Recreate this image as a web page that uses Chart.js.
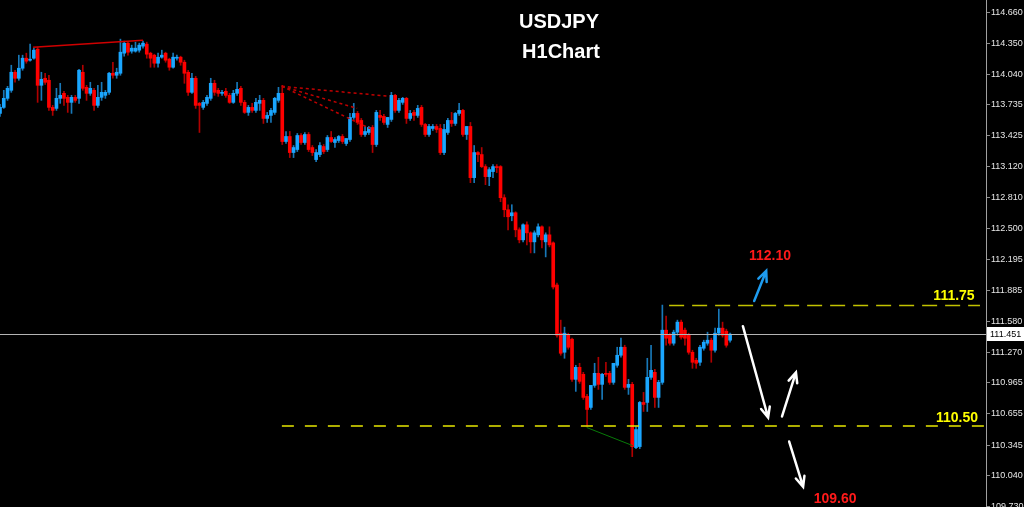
<!DOCTYPE html>
<html>
<head>
<meta charset="utf-8">
<title>USDJPY H1Chart</title>
<script src="https://cdn.jsdelivr.net/npm/chart.js@4.4.1/dist/chart.umd.min.js"></script>
<style>
  html, body { margin: 0; padding: 0; background: #000; }
  #wrap { width: 1024px; height: 507px; }
</style>
</head>
<body>
<div id="wrap"><canvas id="usdjpyChart" width="1024" height="507"></canvas></div>
<script>
// H1 candles, oldest first
const opens = [113.65,113.71,113.80,113.88,114.06,114.00,114.10,114.20,114.18,114.20,
  114.29,113.93,114.00,113.98,113.71,113.70,113.80,113.85,113.81,113.76,
  113.81,113.80,114.06,113.91,113.85,113.88,113.73,113.81,113.83,113.86,
  114.05,114.03,114.05,114.25,114.35,114.27,114.27,114.28,114.32,114.34,
  114.25,114.23,114.15,114.21,114.25,114.19,114.11,114.20,114.21,114.16,
  114.06,113.86,114.00,113.75,113.71,113.75,113.80,113.95,113.88,113.85,
  113.87,113.83,113.76,113.85,113.90,113.76,113.66,113.71,113.68,113.75,
  113.78,113.60,113.63,113.66,113.78,113.85,113.37,113.42,113.26,113.29,
  113.43,113.36,113.44,113.31,113.19,113.24,113.32,113.29,113.41,113.36,
  113.38,113.42,113.35,113.39,113.61,113.65,113.58,113.44,113.46,113.51,
  113.34,113.63,113.62,113.54,113.59,113.83,113.68,113.76,113.80,113.60,
  113.66,113.63,113.71,113.54,113.44,113.50,113.52,113.50,113.26,113.46,
  113.58,113.55,113.65,113.68,113.44,113.52,113.01,113.26,113.24,113.12,
  113.02,113.07,113.12,113.12,112.81,112.69,112.63,112.66,112.49,112.39,
  112.54,112.46,112.37,112.44,112.52,112.37,112.44,112.36,111.94,111.46,
  111.27,111.44,111.40,111.00,111.12,111.05,110.83,110.72,110.94,111.06,
  110.95,111.06,111.06,110.97,111.14,111.24,111.32,110.92,110.95,110.32,
  110.33,110.77,110.77,111.02,111.07,110.82,110.97,111.49,111.44,111.36,
  111.47,111.57,111.49,111.44,111.27,111.19,111.17,111.31,111.36,111.39,
  111.29,111.46,111.51,111.48,111.39];
const highs = [113.74,113.88,113.92,114.13,114.08,114.23,114.23,114.25,114.34,114.30,
  114.31,114.06,114.05,114.03,113.73,113.90,113.95,113.87,113.83,113.83,
  113.83,114.09,114.13,113.93,113.96,113.90,113.93,113.96,113.88,114.06,
  114.16,114.10,114.39,114.37,114.36,114.33,114.36,114.35,114.37,114.36,
  114.26,114.24,114.25,114.28,114.26,114.20,114.25,114.23,114.22,114.18,
  114.08,114.05,114.02,113.76,113.78,113.83,114.00,113.98,113.90,113.88,
  113.90,113.85,113.88,113.96,113.92,113.78,113.73,113.75,113.80,113.83,
  113.80,113.66,113.70,113.81,113.91,113.93,113.47,113.47,113.33,113.45,
  113.45,113.46,113.46,113.33,113.29,113.36,113.34,113.43,113.47,113.41,
  113.43,113.44,113.40,113.65,113.75,113.67,113.60,113.52,113.52,113.53,
  113.68,113.68,113.64,113.61,113.86,113.84,113.80,113.81,113.81,113.68,
  113.68,113.73,113.73,113.55,113.54,113.54,113.54,113.54,113.54,113.60,
  113.66,113.66,113.75,113.69,113.52,113.56,113.33,113.27,113.31,113.14,
  113.11,113.14,113.14,113.13,112.84,112.74,112.74,112.67,112.51,112.55,
  112.57,112.47,112.48,112.55,112.53,112.46,112.52,112.37,111.96,111.59,
  111.52,111.46,111.41,111.14,111.16,111.07,110.85,110.94,111.16,111.22,
  111.06,111.17,111.08,111.16,111.32,111.41,111.34,111.00,110.97,110.53,
  110.78,110.87,111.21,111.34,111.10,110.99,111.74,111.63,111.46,111.49,
  111.59,111.59,111.51,111.46,111.29,111.21,111.34,111.39,111.47,111.41,
  111.51,111.70,111.57,111.50,111.46];
const lows = [113.62,113.70,113.78,113.86,113.96,113.98,114.08,114.15,114.17,114.19,
  113.76,113.78,113.94,113.68,113.63,113.68,113.75,113.73,113.66,113.65,
  113.76,113.75,113.88,113.78,113.83,113.68,113.71,113.78,113.80,113.84,
  114.00,114.00,114.03,114.22,114.23,114.25,114.26,114.26,114.30,114.20,
  114.11,114.11,114.11,114.20,114.16,114.08,114.10,114.18,114.13,113.95,
  113.83,113.85,113.70,113.46,113.69,113.73,113.78,113.83,113.82,113.83,
  113.81,113.75,113.75,113.83,113.73,113.65,113.63,113.66,113.66,113.68,
  113.55,113.56,113.56,113.64,113.76,113.34,113.35,113.21,113.21,113.27,
  113.34,113.34,113.27,113.23,113.17,113.22,113.25,113.27,113.36,113.31,
  113.36,113.35,113.33,113.37,113.59,113.54,113.42,113.42,113.44,113.26,
  113.32,113.58,113.54,113.51,113.57,113.66,113.66,113.74,113.55,113.58,
  113.58,113.61,113.52,113.42,113.42,113.48,113.46,113.24,113.24,113.44,
  113.52,113.53,113.63,113.42,113.39,112.96,112.96,113.17,113.11,112.94,
  112.93,113.01,113.06,112.77,112.62,112.49,112.58,112.42,112.36,112.37,
  112.34,112.26,112.26,112.42,112.31,112.22,112.32,111.90,111.42,111.24,
  111.21,111.30,110.98,110.88,110.96,110.80,110.53,110.70,110.92,110.90,
  110.80,111.03,110.95,110.95,111.12,111.22,110.90,110.85,110.23,110.31,
  110.31,110.68,110.68,111.00,110.72,110.72,110.95,111.34,111.34,111.34,
  111.44,111.40,111.34,111.25,111.11,111.11,111.14,111.29,111.34,111.17,
  111.27,111.44,111.42,111.32,111.37];
const closes = [113.71,113.80,113.90,114.06,114.00,114.10,114.20,114.17,114.19,114.28,
  113.93,113.99,113.96,113.71,113.68,113.80,113.83,113.80,113.76,113.81,
  113.78,114.08,113.90,113.85,113.90,113.73,113.81,113.86,113.86,114.05,
  114.03,114.06,114.26,114.35,114.26,114.30,114.30,114.33,114.35,114.24,
  114.20,114.15,114.21,114.23,114.18,114.11,114.21,114.21,114.16,114.05,
  113.86,114.00,113.73,113.73,113.76,113.81,113.95,113.86,113.85,113.86,
  113.83,113.76,113.85,113.89,113.76,113.66,113.71,113.68,113.76,113.78,
  113.60,113.63,113.68,113.80,113.85,113.37,113.42,113.26,113.31,113.43,
  113.36,113.44,113.29,113.26,113.26,113.33,113.27,113.41,113.37,113.39,
  113.42,113.37,113.40,113.61,113.65,113.56,113.44,113.47,113.51,113.34,
  113.66,113.61,113.56,113.61,113.83,113.68,113.78,113.80,113.60,113.65,
  113.63,113.70,113.54,113.44,113.52,113.52,113.49,113.26,113.49,113.58,
  113.55,113.65,113.68,113.44,113.52,113.01,113.26,113.24,113.12,113.02,
  113.09,113.12,113.11,112.81,112.69,112.62,112.66,112.49,112.39,112.54,
  112.46,112.37,112.46,112.52,112.39,112.44,112.34,111.92,111.44,111.26,
  111.46,111.32,111.00,111.12,110.98,110.82,110.70,110.94,111.06,110.95,
  111.05,111.05,110.97,111.16,111.24,111.32,110.92,110.95,110.33,110.50,
  110.77,110.75,111.02,111.09,110.82,110.97,111.49,111.41,111.36,111.47,
  111.57,111.42,111.41,111.27,111.17,111.16,111.32,111.37,111.39,111.29,
  111.46,111.51,111.44,111.34,111.45];

const slotCount = 263;   // bar slots across the visible window (empty ones on the right)
const yTickValues = [114.660, 114.350, 114.040, 113.735, 113.425, 113.120, 112.810, 112.500,
  112.195, 111.885, 111.580, 111.270, 110.965, 110.655, 110.345, 110.040, 109.730];
const yMin = 109.728;
const yMax = 114.78;
const lastPrice = 111.451;

// drawing objects, in [bar index, price]
const topTrend = [[8.8, 114.31], [38.0, 114.38]];
const fanStart = [74.9, 113.92];
const fanEnds = [[103.6, 113.82], [94.9, 113.70], [98.3, 113.50]];
const greenTrend = [[155.9, 110.52], [168.1, 110.34]];
const levels = [
  { from: 177.8, to: 260.4, price: 111.735, color: '#c2c200', dash: [15, 8] },
  { from: 74.9, to: 262.5, price: 110.535, color: '#e8e800', dash: [12, 11] }
];
const arrows = [
  { from: [200.4, 111.78], to: [203.6, 112.08], color: '#1e9cf0' },
  { from: [197.4, 111.53], to: [204.1, 110.62], color: '#ffffff' },
  { from: [207.8, 110.63], to: [211.5, 111.07], color: '#ffffff' },
  { from: [209.7, 110.38], to: [213.4, 109.93], color: '#ffffff' }
];
const priceLabels = [
  { text: '112.10', at: [204.6, 112.23], color: '#ff1a1a' },
  { text: '111.75', at: [253.5, 111.83], color: '#ffff00' },
  { text: '110.50', at: [254.3, 110.61], color: '#ffff00' },
  { text: '109.60', at: [221.9, 109.81], color: '#ff1a1a' }
];

const isUp = i => closes[i] >= opens[i];

function drawArrow(ctx, x1, y1, x2, y2, color) {
  const a = Math.atan2(y2 - y1, x2 - x1);
  const head = 11;
  ctx.strokeStyle = color;
  ctx.lineWidth = 2.5;
  ctx.lineCap = 'round';
  ctx.setLineDash([]);
  ctx.beginPath();
  ctx.moveTo(x1, y1);
  ctx.lineTo(x2, y2);
  ctx.moveTo(x2 - head * Math.cos(a - 0.42), y2 - head * Math.sin(a - 0.42));
  ctx.lineTo(x2, y2);
  ctx.lineTo(x2 - head * Math.cos(a + 0.42), y2 - head * Math.sin(a + 0.42));
  ctx.stroke();
}

const overlay = {
  id: 'overlay',
  afterDatasetsDraw(chart) {
    const ctx = chart.ctx;
    const xs = chart.scales.x, ys = chart.scales.y;
    const px = v => xs.getPixelForValue(v);
    const py = v => ys.getPixelForValue(v);
    const area = chart.chartArea;
    ctx.save();

    // current price line
    ctx.strokeStyle = '#b4b4b4';
    ctx.lineWidth = 1;
    ctx.beginPath();
    ctx.moveTo(area.left, Math.round(py(lastPrice)) + 0.5);
    ctx.lineTo(area.right, Math.round(py(lastPrice)) + 0.5);
    ctx.stroke();

    // red trendline on top
    ctx.strokeStyle = '#d00000';
    ctx.lineWidth = 1.5;
    ctx.beginPath();
    ctx.moveTo(px(topTrend[0][0]), py(topTrend[0][1]));
    ctx.lineTo(px(topTrend[1][0]), py(topTrend[1][1]));
    ctx.stroke();

    // dashed fan
    ctx.strokeStyle = '#c00000';
    ctx.setLineDash([3, 3]);
    fanEnds.forEach(e => {
      ctx.beginPath();
      ctx.moveTo(px(fanStart[0]), py(fanStart[1]));
      ctx.lineTo(px(e[0]), py(e[1]));
      ctx.stroke();
    });
    ctx.setLineDash([]);

    // green trendline
    ctx.strokeStyle = '#087a08';
    ctx.lineWidth = 1;
    ctx.beginPath();
    ctx.moveTo(px(greenTrend[0][0]), py(greenTrend[0][1]));
    ctx.lineTo(px(greenTrend[1][0]), py(greenTrend[1][1]));
    ctx.stroke();

    // support / resistance levels
    levels.forEach(l => {
      ctx.strokeStyle = l.color;
      ctx.lineWidth = 1.5;
      ctx.setLineDash(l.dash);
      ctx.beginPath();
      ctx.moveTo(px(l.from), py(l.price));
      ctx.lineTo(Math.min(px(l.to), area.right), py(l.price));
      ctx.stroke();
    });
    ctx.setLineDash([]);

    arrows.forEach(a => drawArrow(ctx, px(a.from[0]), py(a.from[1]), px(a.to[0]), py(a.to[1]), a.color));

    ctx.font = 'bold 14px "Liberation Sans", Arial, sans-serif';
    ctx.textAlign = 'center';
    ctx.textBaseline = 'middle';
    priceLabels.forEach(l => {
      ctx.fillStyle = l.color;
      ctx.fillText(l.text, px(l.at[0]), py(l.at[1]));
    });

    // title
    ctx.fillStyle = '#ffffff';
    ctx.font = 'bold 20px "Liberation Sans", Arial, sans-serif';
    ctx.fillText('USDJPY', 559, 22);
    ctx.fillText('H1Chart', 561, 52);

    // last price tag on the axis
    const ty = Math.round(py(lastPrice));
    ctx.fillStyle = '#ffffff';
    ctx.fillRect(area.right + 1, ty - 7, 1024 - area.right - 1, 14);
    ctx.fillStyle = '#000000';
    ctx.font = '9px "Liberation Sans", Arial, sans-serif';
    ctx.textAlign = 'left';
    ctx.fillText(lastPrice.toFixed(3), area.right + 4, ty + 0.5);
    ctx.restore();
  }
};

new Chart(document.getElementById('usdjpyChart'), {
  type: 'bar',
  data: {
    labels: Array.from({ length: slotCount }, (_, i) => String(i)),
    datasets: [{
      label: 'body',
      data: opens.map((o, i) => [Math.min(o, closes[i]), Math.max(o, closes[i])]),
      backgroundColor: opens.map((o, i) => isUp(i) ? '#1aa6ff' : '#ff0000'),
      barThickness: 3,
      minBarLength: 1,
      grouped: false,
      order: 1
    }, {
      label: 'wick',
      data: lows.map((l, i) => [l, highs[i]]),
      backgroundColor: lows.map((l, i) => isUp(i) ? '#1878b8' : '#b00000'),
      barThickness: 1,
      grouped: false,
      order: 2
    }]
  },
  options: {
    responsive: false,
    animation: false,
    devicePixelRatio: 1,
    layout: { padding: 0 },
    plugins: { legend: { display: false }, tooltip: { enabled: false } },
    scales: {
      x: {
        display: false,
        offset: false,
        grid: { display: false }
      },
      y: {
        position: 'right',
        min: yMin,
        max: yMax,
        afterBuildTicks: s => { s.ticks = yTickValues.map(v => ({ value: v })); },
        afterFit: s => { s.width = 38; s.paddingTop = 0; s.paddingBottom = 0; },
        grid: { drawOnChartArea: false, color: '#8c8c8c', tickLength: 4 },
        border: { color: '#a0a0a0', width: 1 },
        ticks: {
          color: '#e6e6e6',
          padding: 1,
          autoSkip: false,
          font: { family: '"Liberation Sans", Arial', size: 9 },
          callback: v => Number(v).toFixed(3)
        }
      }
    }
  },
  plugins: [overlay]
});
</script>
</body>
</html>
